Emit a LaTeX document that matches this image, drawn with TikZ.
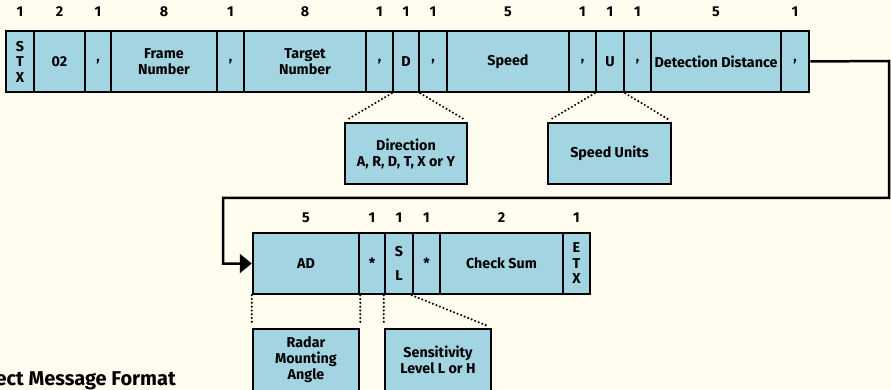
\documentclass[tikz,border=0pt]{standalone}
\usepackage{fontspec}
\setmainfont{Fira Sans}[BoldFont={Fira Sans Bold}]
\usetikzlibrary{arrows.meta}
\definecolor{bg}{HTML}{FFFDF0}
\definecolor{cellfill}{HTML}{A2D4E1}
\tikzset{
  cell/.style={draw=black, fill=cellfill, line width=2.5pt, minimum height=61pt, inner sep=0pt,
    align=center, font=\fontsize{14.3}{16}\selectfont\bfseries},
  infobox/.style={cell, minimum height=61pt},
  sizelabel/.style={font=\fontsize{14.3}{16}\selectfont\bfseries, inner sep=0pt},
  dotline/.style={line width=2.3pt, dash pattern=on 0pt off 3.8pt, line cap=round, shorten >=4pt},
  conn/.style={line width=2.5pt},
}
\begin{document}
\begin{tikzpicture}[x=1pt,y=-1pt]
\fill[bg] (0,0) rectangle (891,390);
\useasboundingbox (0,0) rectangle (891,390);
\begin{scope}
\clip (0,0) rectangle (891,390);
% top row
\node[cell, minimum width=28pt] (c1) at (20,61.5) {S\\[-0.5pt]T\\[-0.5pt]X};
\node[cell, minimum width=51pt] (c2) at (59.5,61.5) {02};
\node[cell, minimum width=26pt] (c3) at (98,61.5) {,};
\node[cell, minimum width=106pt] (c4) at (164,61.5) {Frame\\Number};
\node[cell, minimum width=27pt] (c5) at (230.5,61.5) {,};
\node[cell, minimum width=122pt] (c6) at (305,61.5) {Target\\Number};
\node[cell, minimum width=27pt] (c7) at (379.5,61.5) {,};
\node[cell, minimum width=26pt] (c8) at (406,61.5) {D};
\node[cell, minimum width=28pt] (c9) at (433,61.5) {,};
\node[cell, minimum width=122pt] (c10) at (508,61.5) {Speed};
\node[cell, minimum width=27pt] (c11) at (582.5,61.5) {,};
\node[cell, minimum width=28pt] (c12) at (610,61.5) {U};
\node[cell, minimum width=27pt] (c13) at (637.5,61.5) {,};
\node[cell, minimum width=130pt] (c14) at (716,61.5) {Detection Distance};
\node[cell, minimum width=28pt] (c15) at (795,61.5) {,};
% sizes top
\node[sizelabel] (s1) at (20,12) {1};
\node[sizelabel] (s2) at (59.5,12) {2};
\node[sizelabel] (s3) at (98,12) {1};
\node[sizelabel] (s4) at (164,12) {8};
\node[sizelabel] (s5) at (230.5,12) {1};
\node[sizelabel] (s6) at (305,12) {8};
\node[sizelabel] (s7) at (379.5,12) {1};
\node[sizelabel] (s8) at (406,12) {1};
\node[sizelabel] (s9) at (433,12) {1};
\node[sizelabel] (s10) at (508,12) {5};
\node[sizelabel] (s11) at (582.5,12) {1};
\node[sizelabel] (s12) at (610,12) {1};
\node[sizelabel] (s13) at (637.5,12) {1};
\node[sizelabel] (s14) at (716,12) {5};
\node[sizelabel] (s15) at (795,12) {1};
% bottom row
\node[cell, minimum width=106pt] (b1) at (306,263.5) {AD};
\node[cell, minimum width=26pt] (b2) at (372,263.5) {*};
\node[cell, minimum width=28pt] (b3) at (399,263.5) {S\\[8pt]L};
\node[cell, minimum width=27pt] (b4) at (426.5,263.5) {*};
\node[cell, minimum width=123pt] (b5) at (501.5,263.5) {Check Sum};
\node[cell, minimum width=27pt] (b6) at (576.5,263.5) {E\\[-0.5pt]T\\[-0.5pt]X};
\node[sizelabel] (t1) at (306,218) {5};
\node[sizelabel] (t2) at (372,218) {1};
\node[sizelabel] (t3) at (399,218) {1};
\node[sizelabel] (t4) at (426.5,218) {1};
\node[sizelabel] (t5) at (501.5,218) {2};
\node[sizelabel] (t6) at (576.5,218) {1};
% info boxes
\node[infobox, minimum width=122pt] (dir) at (406,153.5) {Direction\\A, R, D, T, X or Y};
\node[infobox, minimum width=123pt] (su) at (609.5,153.5) {Speed Units};
\node[infobox, minimum width=106pt, minimum height=62pt] (rma) at (306,360) {Radar\\Mounting\\Angle};
\node[infobox, minimum width=106pt, minimum height=62pt] (sens) at (438,360) {Sensitivity\\Level L or H};
% dotted leaders
\draw[dotline] (c8.south west) -- (dir.north west);
\draw[dotline] (c8.south east) -- (dir.north east);
\draw[dotline] (c12.south west) -- (su.north west);
\draw[dotline] (c12.south east) -- (su.north east);
\draw[dotline] (b1.south west) -- (rma.north west);
\draw[dotline] (b1.south east) -- (rma.north east);
\draw[dotline] (b3.south west) -- (sens.north west);
\draw[dotline] (b4.south west) -- (sens.north east);
% connector
\coordinate (r1) at (889,61);
\coordinate (r2) at (889,198);
\coordinate (l1) at (223,198);
\draw[conn, -{Triangle[length=12pt,width=19pt]}] (c15.east) -- (r1) -- (r2) -- (l1) |- (b1.west);
% title
\node[anchor=base east, inner sep=0pt, font=\fontsize{20}{22}\selectfont\bfseries] (title) at (176,385) {Direct Message Format};
\end{scope}
\end{tikzpicture}
\end{document}
